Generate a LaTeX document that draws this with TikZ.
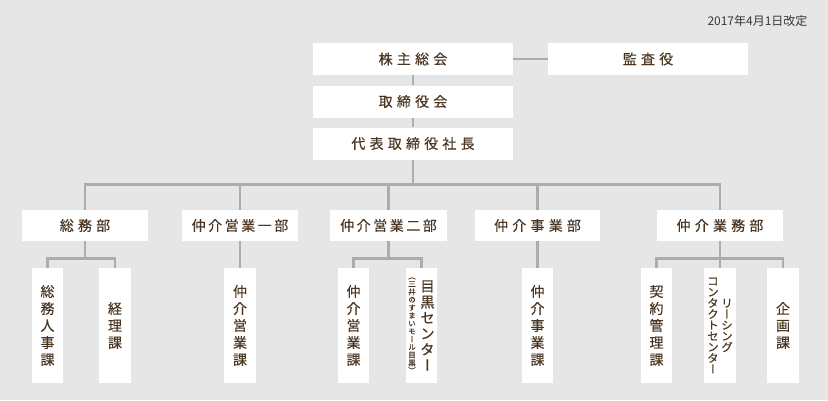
\documentclass[tikz,border=0pt]{standalone}
\usepackage{fontspec}
\newfontfamily\jpfont{Noto Sans CJK JP}
\newfontfamily\jpwide[LetterSpace=30,FakeBold=0.3]{Noto Sans CJK JP}
\newfontfamily\jpmid[LetterSpace=18,FakeBold=0.3]{Noto Sans CJK JP}
\newfontfamily\jpvert[RawFeature=+vert,FakeBold=0.3]{Noto Sans CJK JP}
\definecolor{bgGray}{RGB}{230,230,230}
\definecolor{lineGray}{RGB}{172,172,172}
\definecolor{inkBrown}{RGB}{74,54,34}
\definecolor{dateGray}{RGB}{55,55,55}

\begin{document}
\begin{tikzpicture}[x=1pt,y=-1pt,
    box/.style={fill=white,inner sep=0pt,text=inkBrown},
    head/.style={box,minimum width=200pt,minimum height=32pt,font=\jpwide\fontsize{14}{14}\selectfont},
    dept/.style={box,minimum height=31pt,font=\jpwide\fontsize{14}{14}\selectfont},
    sect/.style={box,minimum width=31.5pt,minimum height=115pt,align=center,font=\jpvert\fontsize{14}{17}\selectfont},
    vcol/.style={inner sep=0pt,align=center,text=inkBrown},
    link/.style={draw=lineGray,line width=2.6pt}]
    \fill[bgGray] (0,0) rectangle (828,400);
    \node[anchor=east,text=dateGray,font=\jpfont\fontsize{12}{12}\selectfont] (revised) at (811,21) {2017年4月1日改定};

    \node[head] (kabu) at (413,59) {株主総会};
    \node[head] (kansa) at (648,59) {監査役};
    \node[head] (tori) at (413,101.5) {取締役会};
    \node[head] (daihyo) at (413,143.5) {代表取締役社長};

    \node[dept,minimum width=126pt] (soumu) at (85,225.5) {総務部};
    \node[dept,minimum width=116pt,font=\jpmid\fontsize{14}{14}\selectfont] (ichibu) at (240,225.5) {仲介営業一部};
    \node[dept,minimum width=117pt,font=\jpmid\fontsize{14}{14}\selectfont] (nibu) at (388.5,225.5) {仲介営業二部};
    \node[dept,minimum width=125pt] (jigyo) at (537.5,225.5) {仲介事業部};
    \node[dept,minimum width=126pt] (gyomu) at (720,225.5) {仲介業務部};

    \node[sect] (somujinji) at (47.5,325.5) {総\\務\\人\\事\\課};
    \node[sect] (keiri) at (115,325.5) {経\\理\\課};
    \node[sect] (eigyo1) at (240,325.5) {仲\\介\\営\\業\\課};
    \node[sect] (eigyo2) at (353.5,325.5) {仲\\介\\営\\業\\課};
    \node[sect] (meguro) at (421.5,325.5) {};
    \node[vcol,font=\jpvert\fontsize{14.5}{15.8}\selectfont] (meguroMain) at ([xshift=6pt]meguro.center) {目\\黒\\セ\\ン\\タ\\ー};
    \node[vcol,font=\jpvert\fontsize{7.5}{7.9}\selectfont] (meguroNote) at ([xshift=-9.5pt]meguro.center) {（\\三\\井\\の\\す\\ま\\い\\モ\\ー\\ル\\目\\黒\\）};
    \node[sect] (jigyoka) at (537.5,325.5) {仲\\介\\事\\業\\課};
    \node[sect] (keiyaku) at (656.5,325.5) {契\\約\\管\\理\\課};
    \node[sect] (leasing) at (720,325.5) {};
    \node[vcol,font=\jpvert\fontsize{11.5}{11}\selectfont] (leasingA) at ([xshift=7pt]leasing.center) {リ\\ー\\シ\\ン\\グ};
    \node[vcol,font=\jpvert\fontsize{11.5}{11}\selectfont] (leasingB) at ([xshift=-7pt]leasing.center) {コ\\ン\\タ\\ク\\ト\\セ\\ン\\タ\\ー};
    \node[sect] (kikaku) at (783,325.5) {企\\画\\課};

    \draw[link] (kabu) -- (kansa);
    \draw[link] (kabu) -- (tori);
    \draw[link] (tori) -- (daihyo);
    \draw[link] (daihyo.south) -- ++(0,25) coordinate (busTop);
    \draw[link] (soumu.north) |- (busTop) -| (gyomu.north);
    \foreach \d in {ichibu,nibu,jigyo}
        \draw[link] (\d.north) -- (\d.north |- busTop);

    \draw[link] (soumu.south) -- ++(0,17) coordinate (soumuBus);
    \draw[link] (somujinji.north) |- (soumuBus) -| (keiri.north);
    \draw[link] (ichibu) -- (eigyo1);
    \draw[link] (nibu.south) -- ++(0,17) coordinate (nibuBus);
    \draw[link] (eigyo2.north) |- (nibuBus) -| (meguro.north);
    \draw[link] (jigyo) -- (jigyoka);
    \draw[link] (gyomu) -- (leasing);
    \path (gyomu.south) ++(0,17) coordinate (gyomuBus);
    \draw[link] (keiyaku.north) |- (gyomuBus) -| (kikaku.north);
\end{tikzpicture}
\end{document}
